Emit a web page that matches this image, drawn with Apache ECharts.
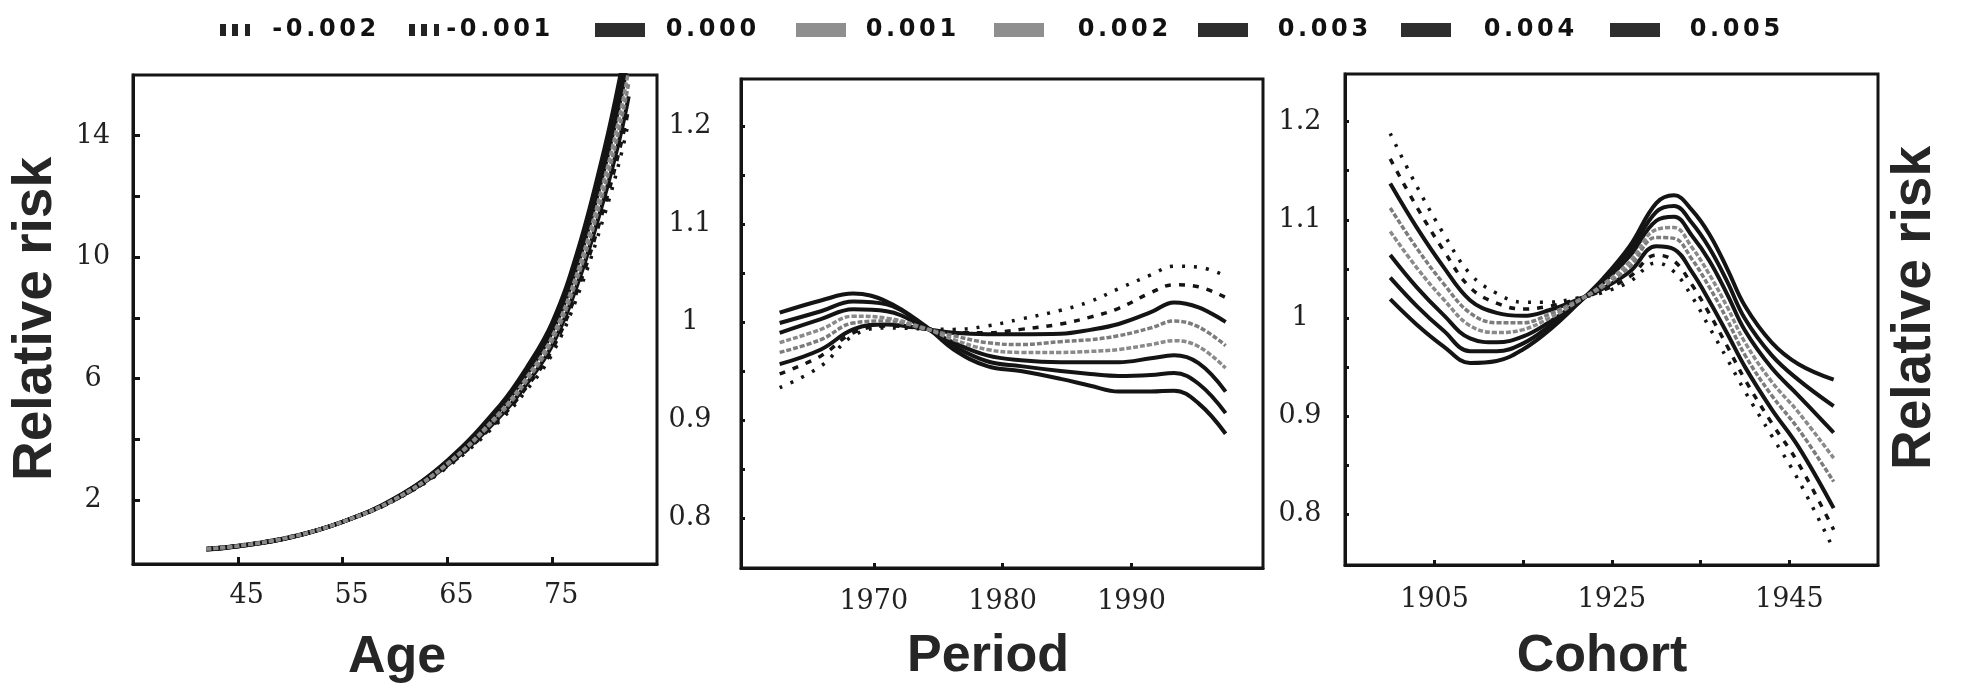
<!DOCTYPE html>
<html>
<head>
<meta charset="utf-8">
<script src="https://cdn.jsdelivr.net/npm/echarts@6/dist/echarts.min.js"></script>
<style>html,body{margin:0;padding:0;background:#fff}#c{width:1961px;height:692px}</style>
</head>
<body>
<div id="c"></div>
<script>
// ---------- DATA ----------
const seriesNames = ['-0.002', '-0.001', '0.000', '0.001', '0.002', '0.003', '0.004', '0.005'];

// Age panel
const ageX = [42, 45, 50, 55, 60, 65, 70, 72.5, 75, 77.5, 80, 81.5, 82.3];
const age_m002 = [0.410, 0.510, 0.798, 1.29, 2.00, 3.09, 4.61, 5.60, 6.82, 8.80, 11.41, 13.27, 14.49];
const age_m001 = [0.405, 0.505, 0.794, 1.29, 2.01, 3.12, 4.68, 5.70, 6.96, 9.00, 11.70, 13.64, 14.89];
const age_000  = [0.400, 0.500, 0.790, 1.29, 2.02, 3.15, 4.75, 5.80, 7.10, 9.20, 12.00, 14.00, 15.30];
const age_001  = [0.395, 0.495, 0.786, 1.29, 2.03, 3.18, 4.82, 5.90, 7.24, 9.41, 12.30, 14.38, 15.73];
const age_002  = [0.390, 0.490, 0.782, 1.29, 2.04, 3.21, 4.89, 6.01, 7.39, 9.62, 12.61, 14.76, 16.16];
const age_003  = [0.385, 0.485, 0.778, 1.29, 2.05, 3.25, 4.97, 6.11, 7.54, 9.84, 12.94, 15.16, 16.60];
const age_004  = [0.380, 0.480, 0.774, 1.29, 2.06, 3.28, 5.04, 6.22, 7.69, 10.07, 13.26, 15.57, 17.06];
const age_005  = [0.375, 0.476, 0.770, 1.29, 2.07, 3.31, 5.12, 6.33, 7.85, 10.29, 13.60, 15.99, 17.53];

// Period panel
const periodX = [1962.7, 1965.9, 1968.4, 1971.0, 1974.0, 1976.2, 1978.8, 1981.4, 1984.5, 1986.8, 1989.0, 1991.5, 1993.3, 1995.2, 1997.3];
const per_m002 = [0.933, 0.955, 0.986, 0.994, 0.993, 0.9925, 0.996, 1.003, 1.012, 1.021, 1.034, 1.048, 1.057, 1.056, 1.047];
const per_m001 = [0.947, 0.9654, 0.989, 0.996, 0.993, 0.989, 0.989, 0.9925, 0.998, 1.005, 1.014, 1.030, 1.038, 1.036, 1.025];
const per_000  = [0.957, 0.972, 0.9925, 0.9976, 0.993, 0.989, 0.9875, 0.9875, 0.988, 0.992, 0.998, 1.010, 1.020, 1.015, 1.000];
const per_001  = [0.969, 0.982, 0.999, 1.001, 0.993, 0.986, 0.979, 0.977, 0.980, 0.982, 0.986, 0.994, 1.001, 0.995, 0.976];
const per_002  = [0.979, 0.9925, 1.006, 1.004, 0.9935, 0.982, 0.972, 0.969, 0.969, 0.970, 0.972, 0.977, 0.981, 0.975, 0.953];
const per_003  = [0.989, 1.003, 1.013, 1.011, 0.994, 0.979, 0.966, 0.961, 0.959, 0.959, 0.959, 0.963, 0.966, 0.958, 0.929];
const per_004  = [0.999, 1.011, 1.021, 1.018, 0.995, 0.9756, 0.960, 0.955, 0.950, 0.947, 0.945, 0.946, 0.948, 0.937, 0.907];
const per_005  = [1.0095, 1.022, 1.029, 1.021, 0.996, 0.972, 0.955, 0.950, 0.942, 0.935, 0.929, 0.929, 0.930, 0.917, 0.886];

// Cohort panel
const cohortX = [1900, 1903, 1906, 1909, 1912, 1915, 1918, 1921, 1924, 1927, 1930, 1932, 1934, 1936, 1938, 1940, 1943, 1946, 1950];
const coh_m002 = [1.188, 1.134, 1.086, 1.045, 1.025, 1.016, 1.016, 1.020, 1.026, 1.037, 1.056, 1.047, 1.022, 0.990, 0.958, 0.925, 0.880, 0.835, 0.764];
const coh_m001 = [1.162, 1.113, 1.069, 1.031, 1.015, 1.009, 1.012, 1.019, 1.028, 1.042, 1.064, 1.058, 1.034, 1.004, 0.971, 0.937, 0.893, 0.852, 0.784];
const coh_000  = [1.137, 1.092, 1.052, 1.018, 1.005, 1.002, 1.008, 1.018, 1.030, 1.047, 1.073, 1.070, 1.047, 1.017, 0.984, 0.950, 0.907, 0.869, 0.806];
const coh_001  = [1.112, 1.071, 1.035, 1.005, 0.995, 0.995, 1.004, 1.017, 1.032, 1.052, 1.082, 1.081, 1.060, 1.031, 0.998, 0.962, 0.921, 0.887, 0.833];
const coh_002  = [1.088, 1.051, 1.019, 0.992, 0.985, 0.988, 1.000, 1.016, 1.034, 1.057, 1.090, 1.092, 1.072, 1.044, 1.011, 0.975, 0.935, 0.904, 0.857];
const coh_003  = [1.064, 1.031, 1.003, 0.979, 0.975, 0.981, 0.996, 1.015, 1.036, 1.063, 1.099, 1.103, 1.084, 1.058, 1.024, 0.987, 0.949, 0.921, 0.883];
const coh_004  = [1.041, 1.012, 0.987, 0.966, 0.966, 0.974, 0.992, 1.014, 1.038, 1.068, 1.108, 1.114, 1.097, 1.071, 1.037, 0.999, 0.962, 0.937, 0.910];
const coh_005  = [1.019, 0.993, 0.971, 0.954, 0.956, 0.968, 0.988, 1.013, 1.040, 1.073, 1.117, 1.125, 1.110, 1.085, 1.050, 1.012, 0.975, 0.953, 0.937];

// Tick labels
const ageTicks = [45, 55, 65, 75];
const ageYTicks = [2, 4, 6, 8, 10, 12, 14];
const ageYLabels = [2, 6, 10, 14];
const periodTicks = [1970, 1980, 1990];
const cohortTicks = [1905, 1915, 1925, 1935, 1945];
const cohortLabels = [1905, 1925, 1945];
const rrTicks = [0.8, 0.85, 0.9, 0.95, 1, 1.05, 1.1, 1.15, 1.2];
const rrLabels = [0.8, 0.9, 1, 1.1, 1.2];

// ---------- LAYOUT / STYLE ----------
const legendLeft = [215, 404, 590, 791, 989, 1193, 1396, 1605];
const legendLead = [15, 0, 14, 13, 27, 23, 26, 23];
const INK = '#141414';
const styleOf = {
  '-0.002': { color: INK, width: 3.5, type: [3, 9], icon: 'bars', iconColor: '#222' },
  '-0.001': { color: INK, width: 3.5, type: [6, 8], icon: 'bars', iconColor: '#222' },
  '0.000': { color: INK, width: 4, type: 'solid', icon: 'rect', iconColor: '#2e2e2e' },
  '0.001': { color: '#7c7c7c', width: 3.5, type: [5, 2], icon: 'rect', iconColor: '#8f8f8f' },
  '0.002': { color: '#8a8a8a', width: 3.5, type: [5, 2], icon: 'rect', iconColor: '#8f8f8f' },
  '0.003': { color: INK, width: 4, type: 'solid', icon: 'rect', iconColor: '#2e2e2e' },
  '0.004': { color: INK, width: 4, type: 'solid', icon: 'rect', iconColor: '#2e2e2e' },
  '0.005': { color: INK, width: 4, type: 'solid', icon: 'rect', iconColor: '#2e2e2e' }
};
const barsIcon = 'path://M0,0h6v12h-6z M12,0h6v12h-6z M25,0h5v12h-5z';

const ageSets = [age_m002, age_m001, age_000, age_001, age_002, age_003, age_004, age_005];
const perSets = [per_m002, per_m001, per_000, per_001, per_002, per_003, per_004, per_005];
const cohSets = [coh_m002, coh_m001, coh_000, coh_001, coh_002, coh_003, coh_004, coh_005];

function pairs(xs, ys) { return xs.map((x, i) => [x, ys[i]]); }

const series = [];
[[ageX, ageSets], [periodX, perSets], [cohortX, cohSets]].forEach(([xs, sets], gi) => {
  sets.forEach((ys, si) => {
    const nm = seriesNames[si];
    const st = styleOf[nm];
    series.push({
      type: 'line', name: nm, xAxisIndex: gi, yAxisIndex: gi,
      data: pairs(xs, ys), smooth: 0.4,
      showSymbol: false, symbol: 'none', silent: true, animation: false,
      lineStyle: { color: st.color, width: st.width, type: st.type, cap: 'butt' },
      itemStyle: { color: st.iconColor },
      z: (st.type === 'solid') ? 3 : 4
    });
  });
});

const labelFont = { fontFamily: '"DejaVu Serif", serif', fontSize: 27, color: '#222' };
const plain = (v) => String(v);

function xAxis(gi, min, max, ticks, labels, margin, tickLen, extra) {
  return {
    gridIndex: gi, type: 'value', min: min, max: max,
    axisLine: { show: true, onZero: false, lineStyle: { color: INK, width: 3 } },
    axisTick: { show: true, inside: true, length: tickLen, customValues: ticks, lineStyle: { color: INK, width: 3 } },
    axisLabel: Object.assign({ customValues: labels, margin: margin, formatter: plain }, labelFont, extra || {}),
    splitLine: { show: false }
  };
}
function yAxis(gi, min, max, ticks, labels, margin, tickLen) {
  return {
    gridIndex: gi, type: 'value', min: min, max: max,
    axisLine: { show: true, onZero: false, lineStyle: { color: INK, width: 3 } },
    axisTick: { show: true, inside: true, length: tickLen, customValues: ticks, lineStyle: { color: INK, width: 3 } },
    axisLabel: Object.assign({ customValues: labels, margin: margin, align: 'center', formatter: plain }, labelFont),
    splitLine: { show: false }
  };
}

const legends = seriesNames.map((nm, i) => {
  const st = styleOf[nm];
  const isBars = st.icon === 'bars';
  const base = { fontFamily: '"DejaVu Sans", sans-serif', fontWeight: 'bold', fontSize: 24, color: '#111', lineHeight: 26 };
  return {
    left: legendLeft[i], top: 12, orient: 'horizontal', selectedMode: false,
    itemWidth: isBars ? 31 : 50, itemHeight: isBars ? 12 : 14, itemGap: 0,
    data: [{ name: nm, icon: isBars ? barsIcon : 'rect', itemStyle: { color: st.iconColor, borderWidth: 0 } }],
    formatter: (name) => name.split('').map((ch, k) => '{' + (k === 0 ? 'f' : 'c') + '|' + ch + '}').join(''),
    textStyle: Object.assign({}, base, {
      rich: {
        c: Object.assign({}, base, { padding: [0, 1.8, 0, 1.8] }),
        f: Object.assign({}, base, { padding: [0, 1.8, 0, 1.8 + legendLead[i]] })
      }
    })
  };
});

const titleFont = 'bold 52px "Liberation Sans", Arial, sans-serif';
const sideFont = 'bold 55px "Liberation Sans", Arial, sans-serif';
function txt(text, x, y, font, rot) {
  return {
    type: 'text', x: x, y: y, rotation: rot || 0, silent: true,
    style: { text: text, font: font, fill: '#262626', align: 'center', verticalAlign: 'middle', textAlign: 'center', textVerticalAlign: 'middle' }
  };
}

const option = {
  animation: false,
  backgroundColor: '#ffffff',
  legend: legends,
  grid: [
    { left: 133, top: 75, width: 524, height: 489, show: true, borderColor: INK, borderWidth: 3, outerBoundsMode: 'none', containLabel: false },
    { left: 741, top: 79, width: 522, height: 489, show: true, borderColor: INK, borderWidth: 3, outerBoundsMode: 'none', containLabel: false },
    { left: 1345, top: 74, width: 533, height: 491, show: true, borderColor: INK, borderWidth: 3, outerBoundsMode: 'none', containLabel: false }
  ],
  xAxis: [
    xAxis(0, 35, 85, ageTicks, ageTicks, 18, 7, { padding: [0, 0, 0, 18] }),
    xAxis(1, 1959.7, 2000.2, periodTicks, periodTicks, 20, 5),
    xAxis(2, 1894.9, 1955.0, cohortTicks, cohortLabels, 21, 5)
  ],
  yAxis: [
    yAxis(0, -0.1, 16, ageYTicks, ageYLabels, 40, 7),
    yAxis(1, 0.749, 1.248, rrTicks, rrLabels, 51, 4),
    yAxis(2, 0.748, 1.2486, rrTicks, rrLabels, 45, 4)
  ],
  graphic: [
    txt('Age', 397, 658, titleFont),
    txt('Period', 988, 657, titleFont),
    txt('Cohort', 1602, 657, titleFont),
    txt('Relative risk', 36, 319, sideFont, Math.PI / 2),
    txt('Relative risk', 1915, 308, sideFont, Math.PI / 2)
  ],
  series: series
};

const chart = echarts.init(document.getElementById('c'), null, { renderer: 'canvas', width: 1961, height: 692 });
chart.setOption(option);
</script>
</body>
</html>
